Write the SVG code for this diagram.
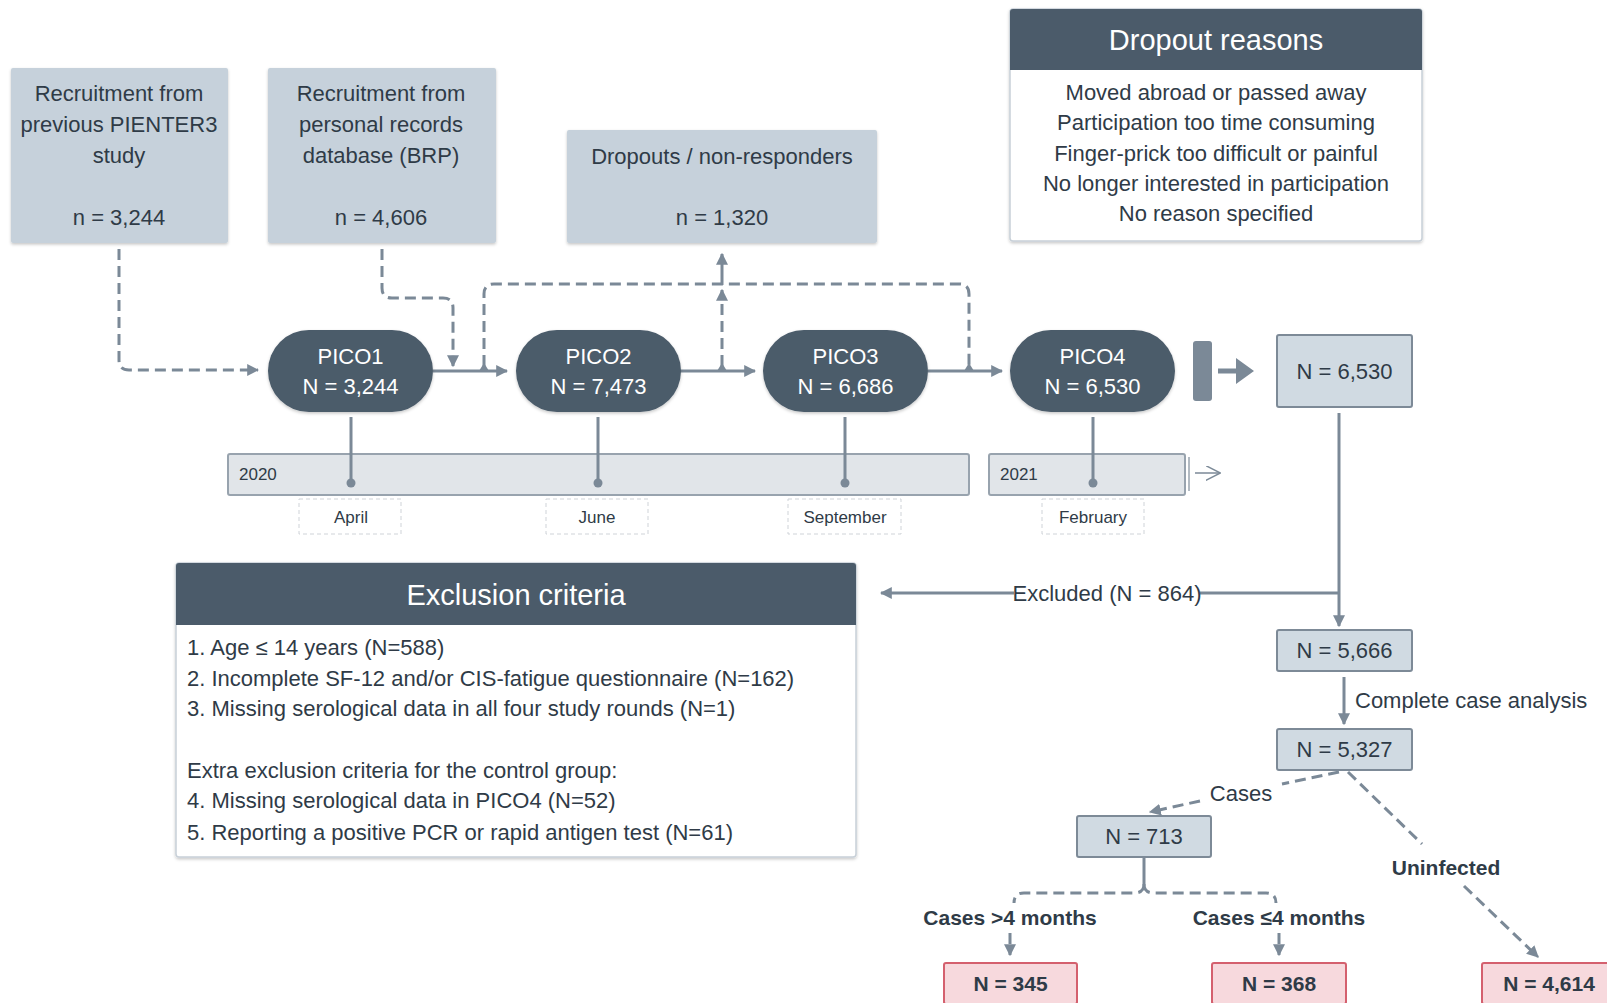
<svg xmlns="http://www.w3.org/2000/svg" width="1607" height="1003" viewBox="0 0 1607 1003">
<defs>
<style>
text{font-family:"Liberation Sans",Arial,sans-serif;fill:#2f3b47;dominant-baseline:central}
.t22{font-size:22px}
.mid{text-anchor:middle}
.white{fill:#ffffff}
.src{fill:#c6d1db}
.pill{fill:#4b5b6a}
.num{fill:#d0dae2;stroke:#7d8a97;stroke-width:2}
.pink{fill:#f7d9dd;stroke:#d4606e;stroke-width:2}
.sol{fill:none;stroke:#7b8997;stroke-width:3}
.dash{fill:none;stroke:#7b8997;stroke-width:3;stroke-dasharray:11 6}
.bar{fill:#e1e5e9;stroke:#98a3ae;stroke-width:2}
.mon{fill:#ffffff;stroke:#cfd3d8;stroke-width:1;stroke-dasharray:4 3}
.bold{font-weight:bold;font-size:21px}
.small{font-size:17px}
</style>
<marker id="ah" viewBox="0 0 10 10" refX="9" refY="5" markerWidth="4" markerHeight="4" orient="auto" markerUnits="strokeWidth">
<path d="M0,0 L10,5 L0,10 z" fill="#7b8997"/>
</marker>
<marker id="open" viewBox="0 0 10 10" refX="9" refY="5" markerWidth="10" markerHeight="10" orient="auto" markerUnits="strokeWidth">
<path d="M0,0 L10,5 L0,10" fill="none" stroke="#7b8997" stroke-width="1"/>
</marker>
<filter id="sh" x="-10%" y="-10%" width="120%" height="130%">
<feDropShadow dx="0" dy="1.5" stdDeviation="1.5" flood-color="#000" flood-opacity="0.22"/>
</filter>
</defs>
<rect width="1607" height="1003" fill="#ffffff"/>

<!-- timeline -->
<g id="timeline">
<rect class="bar" x="228" y="454" width="741" height="41" rx="2"/>
<text class="small" x="239" y="474">2020</text>
<rect class="bar" x="989" y="454" width="196" height="41" rx="2"/>
<text class="small" x="1000" y="474">2021</text>
<line x1="1189" y1="457" x2="1189" y2="491" stroke="#98a3ae" stroke-width="1.5"/>
<line x1="1195" y1="473" x2="1219" y2="473" stroke="#7b8997" stroke-width="1.5" marker-end="url(#open)"/>
<g fill="#7b8997" stroke="#7b8997" stroke-width="3">
<line x1="351" y1="417" x2="351" y2="483"/><circle cx="351" cy="483" r="4.5" stroke="none"/>
<line x1="598" y1="417" x2="598" y2="483"/><circle cx="598" cy="483" r="4.5" stroke="none"/>
<line x1="845" y1="417" x2="845" y2="483"/><circle cx="845" cy="483" r="4.5" stroke="none"/>
<line x1="1093" y1="417" x2="1093" y2="483"/><circle cx="1093" cy="483" r="4.5" stroke="none"/>
</g>
<rect class="mon" x="299" y="499" width="102" height="35"/>
<text class="small mid" x="351" y="517">April</text>
<rect class="mon" x="546" y="499" width="102" height="35"/>
<text class="small mid" x="597" y="517">June</text>
<rect class="mon" x="788" y="499" width="113" height="35"/>
<text class="small mid" x="845" y="517">September</text>
<rect class="mon" x="1042" y="499" width="102" height="35"/>
<text class="small mid" x="1093" y="517">February</text>
</g>

<!-- connectors -->
<g id="connectors">
<path class="dash" d="M119,249 V360 Q119,370 129,370 H258" marker-end="url(#ah)"/>
<path class="dash" d="M382,249 V288 Q382,298 392,298 H443 Q453,298 453,308 V366" marker-end="url(#ah)"/>
<path class="dash" d="M484,366 V294 Q484,284 494,284 H959 Q969,284 969,294 V366"/>
<path class="dash" d="M722,366 V290" marker-end="url(#ah)"/>
<path class="sol" d="M722,285 V254" marker-end="url(#ah)"/>
<g fill="#7b8997">
<path d="M479,371 L484,363 L489,371 z"/>
<path d="M717,371 L722,363 L727,371 z"/>
<path d="M964,371 L969,363 L974,371 z"/>
</g>
<line class="sol" x1="433" y1="371" x2="507" y2="371" marker-end="url(#ah)"/>
<line class="sol" x1="680" y1="371" x2="755" y2="371" marker-end="url(#ah)"/>
<line class="sol" x1="928" y1="371" x2="1002" y2="371" marker-end="url(#ah)"/>
<rect x="1193" y="341" width="19" height="60" rx="3" fill="#7b8997"/>
<path d="M1218,368.5 H1236 V358 L1254,371 L1236,384 V373.5 H1218 z" fill="#7b8997"/>
<line class="sol" x1="1339" y1="413" x2="1339" y2="626" marker-end="url(#ah)"/>
<path class="sol" d="M1339,593 H1200"/>
<path class="sol" d="M1014,593 H881" marker-end="url(#ah)"/>
<text class="t22 mid" x="1107" y="593">Excluded (N = 864)</text>
<line class="sol" x1="1344" y1="677" x2="1344" y2="724" marker-end="url(#ah)"/>
<text class="t22" x="1355" y="700">Complete case analysis</text>
<path class="dash" d="M1339,772 L1282,784"/>
<path class="dash" d="M1200,801 L1150,812" marker-end="url(#ah)"/>
<text class="t22 mid" x="1241" y="793">Cases</text>
<path class="dash" d="M1348,772 L1422,844"/>
<path class="dash" d="M1464,886 L1538,957" marker-end="url(#ah)"/>
<text class="bold mid" x="1446" y="867">Uninfected</text>
<path class="sol" d="M1144,857 V884"/>
<path class="dash" d="M1144,884 Q1144,893 1134,893 H1024 Q1014,893 1014,903"/>
<path class="dash" d="M1144,884 Q1144,893 1154,893 H1266 Q1276,893 1276,903"/>
<text class="bold mid" x="1010" y="917">Cases &gt;4 months</text>
<text class="bold mid" x="1279" y="917">Cases ≤4 months</text>
<path class="dash" d="M1010,933 V955" marker-end="url(#ah)"/>
<path class="dash" d="M1279,933 V955" marker-end="url(#ah)"/>
</g>

<!-- source boxes -->
<g id="src1">
<rect class="src" x="11" y="68" width="217" height="175" rx="2" filter="url(#sh)"/>
<text class="t22 mid" x="119" y="93">Recruitment from</text>
<text class="t22 mid" x="119" y="124">previous PIENTER3</text>
<text class="t22 mid" x="119" y="155">study</text>
<text class="t22 mid" x="119" y="217">n = 3,244</text>
</g>
<g id="src2">
<rect class="src" x="268" y="68" width="228" height="175" rx="2" filter="url(#sh)"/>
<text class="t22 mid" x="381" y="93">Recruitment from</text>
<text class="t22 mid" x="381" y="124">personal records</text>
<text class="t22 mid" x="381" y="155">database (BRP)</text>
<text class="t22 mid" x="381" y="217">n = 4,606</text>
</g>
<g id="dropouts">
<rect class="src" x="567" y="130" width="310" height="113" rx="2" filter="url(#sh)"/>
<text class="t22 mid" x="722" y="156">Dropouts / non-responders</text>
<text class="t22 mid" x="722" y="217">n = 1,320</text>
</g>

<!-- dropout reasons -->
<g id="dropout-reasons">
<rect x="1010" y="9" width="412" height="232" rx="3" fill="#ffffff" stroke="#c8d0d8" stroke-width="1.5" filter="url(#sh)"/>
<path d="M1010,70 V12 Q1010,9 1013,9 H1419 Q1422,9 1422,12 V70 z" class="pill"/>
<text class="mid white" x="1216" y="40" style="font-size:29px">Dropout reasons</text>
<text class="t22 mid" x="1216" y="92">Moved abroad or passed away</text>
<text class="t22 mid" x="1216" y="122">Participation too time consuming</text>
<text class="t22 mid" x="1216" y="153">Finger-prick too difficult or painful</text>
<text class="t22 mid" x="1216" y="183">No longer interested in participation</text>
<text class="t22 mid" x="1216" y="213">No reason specified</text>
</g>

<!-- PICO nodes -->
<g id="pico1">
<rect class="pill" x="268" y="330" width="165" height="82" rx="41" filter="url(#sh)"/>
<text class="t22 mid white" x="350.5" y="356">PICO1</text>
<text class="t22 mid white" x="350.5" y="386">N = 3,244</text>
</g>
<g id="pico2">
<rect class="pill" x="516" y="330" width="165" height="82" rx="41" filter="url(#sh)"/>
<text class="t22 mid white" x="598.5" y="356">PICO2</text>
<text class="t22 mid white" x="598.5" y="386">N = 7,473</text>
</g>
<g id="pico3">
<rect class="pill" x="763" y="330" width="165" height="82" rx="41" filter="url(#sh)"/>
<text class="t22 mid white" x="845.5" y="356">PICO3</text>
<text class="t22 mid white" x="845.5" y="386">N = 6,686</text>
</g>
<g id="pico4">
<rect class="pill" x="1010" y="330" width="165" height="82" rx="41" filter="url(#sh)"/>
<text class="t22 mid white" x="1092.5" y="356">PICO4</text>
<text class="t22 mid white" x="1092.5" y="386">N = 6,530</text>
</g>

<!-- count boxes -->
<g id="n6530">
<rect class="num" x="1277" y="335" width="135" height="72" rx="2"/>
<text class="t22 mid" x="1344.5" y="371">N = 6,530</text>
</g>
<g id="n5666">
<rect class="num" x="1277" y="630" width="135" height="41" rx="2"/>
<text class="t22 mid" x="1344.5" y="650.5">N = 5,666</text>
</g>
<g id="n5327">
<rect class="num" x="1277" y="729" width="135" height="41" rx="2"/>
<text class="t22 mid" x="1344.5" y="749.5">N = 5,327</text>
</g>
<g id="n713">
<rect class="num" x="1077" y="816" width="134" height="41" rx="2"/>
<text class="t22 mid" x="1144" y="836.5">N = 713</text>
</g>
<g id="n345">
<rect class="pink" x="944" y="963" width="133" height="41" rx="2"/>
<text class="bold mid" x="1010.5" y="983.5">N = 345</text>
</g>
<g id="n368">
<rect class="pink" x="1212" y="963" width="134" height="41" rx="2"/>
<text class="bold mid" x="1279" y="983.5">N = 368</text>
</g>
<g id="n4614">
<rect class="pink" x="1482" y="963" width="134" height="41" rx="2"/>
<text class="bold mid" x="1549" y="983.5">N = 4,614</text>
</g>

<!-- exclusion criteria -->
<g id="exclusion-criteria">
<rect x="176" y="563" width="680" height="294" rx="3" fill="#ffffff" stroke="#c8d0d8" stroke-width="1.5" filter="url(#sh)"/>
<path d="M176,625 V566 Q176,563 179,563 H853 Q856,563 856,566 V625 z" class="pill"/>
<text class="mid white" x="516" y="595" style="font-size:29px">Exclusion criteria</text>
<text class="t22" x="187" y="647">1. Age ≤ 14 years (N=588)</text>
<text class="t22" x="187" y="678">2. Incomplete SF-12 and/or CIS-fatigue questionnaire (N=162)</text>
<text class="t22" x="187" y="708">3. Missing serological data in all four study rounds (N=1)</text>
<text class="t22" x="187" y="770">Extra exclusion criteria for the control group:</text>
<text class="t22" x="187" y="800">4. Missing serological data in PICO4 (N=52)</text>
<text class="t22" x="187" y="832">5. Reporting a positive PCR or rapid antigen test (N=61)</text>
</g>
</svg>
